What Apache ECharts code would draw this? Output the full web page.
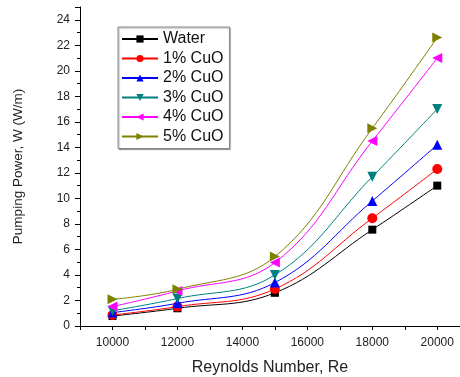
<!DOCTYPE html>
<html>
<head>
<meta charset="utf-8">
<script src="https://cdn.jsdelivr.net/npm/echarts@6/dist/echarts.min.js"></script>
<style>
  html, body { margin: 0; padding: 0; background: #fff; }
  #chart { width: 460px; height: 377px; }
</style>
</head>
<body>
<div id="chart"></div>
<script>
// Reynolds number values (x)
const reynolds = [10000, 12000, 15000, 18000, 20000]

// pumping power per fluid, W (W/m)
const water = [0.78, 1.39, 2.6, 7.55, 11.0]
const cuo1 = [0.86, 1.52, 2.9, 8.45, 12.3]
const cuo2 = [1.05, 1.78, 3.4, 9.8, 14.2]
const cuo3 = [1.2, 2.15, 4.0, 11.7, 17.0]
const cuo4 = [1.52, 2.75, 4.97, 14.5, 21.0]
const cuo5 = [2.09, 2.88, 5.44, 15.5, 22.6]

const seriesNames = ['Water', '1% CuO', '2% CuO', '3% CuO', '4% CuO', '5% CuO']
const seriesValues = [water, cuo1, cuo2, cuo3, cuo4, cuo5]
const colors = ['#000000', '#ff0000', '#0000ff', '#008080', '#ff00ff', '#808000']
const symbols = ['rect', 'circle', 'triangle', 'triangle', 'triangle', 'triangle']
const rotations = [0, 0, 0, 180, 90, -90]

const chart = echarts.init(document.getElementById('chart'))

const font = 'Liberation Sans, Arial, sans-serif'

chart.setOption({
  animation: false,
  textStyle: { fontFamily: font },
  grid: { left: 80, right: 0, top: 7, bottom: 51, outerBoundsMode: 'none' },
  legend: {
    orient: 'vertical',
    left: 118,
    top: 27,
    padding: [4, 6, 4, 3],
    itemGap: 3.5,
    itemWidth: 36,
    itemHeight: 9,
    backgroundColor: '#fff',
    borderColor: '#888',
    borderWidth: 1,
    borderRadius: 0,
    shadowColor: 'rgba(0,0,0,0.35)',
    shadowOffsetX: 1,
    shadowOffsetY: 1,
    shadowBlur: 1,
    textStyle: { fontSize: 16, color: '#111', lineHeight: 16, fontFamily: font },
    data: seriesNames
  },
  xAxis: {
    type: 'value',
    min: 9000,
    max: 20700,
    interval: 1000,
    name: 'Reynolds Number, Re',
    nameLocation: 'middle',
    nameGap: 34,
    nameTextStyle: { fontSize: 16, color: '#222', fontFamily: font },
    axisLine: { lineStyle: { color: '#000', width: 1 } },
    axisTick: { show: true, inside: false, length: 4, lineStyle: { color: '#000' } },
    axisLabel: {
      margin: 11,
      fontSize: 12,
      color: '#222',
      formatter: v => (v % 2000 === 0 && v >= 10000 && v <= 20000) ? String(v) : ''
    },
    splitLine: { show: false }
  },
  yAxis: {
    type: 'value',
    min: 0,
    max: 25,
    interval: 2,
    name: 'Pumping Power, W (W/m)',
    nameLocation: 'middle',
    nameGap: 55,
    nameTextStyle: { fontSize: 13.5, color: '#222', fontFamily: font },
    axisLine: { show: true, lineStyle: { color: '#000', width: 1 } },
    axisTick: { show: true, inside: false, length: 5, lineStyle: { color: '#000' } },
    minorTick: { show: true, splitNumber: 2, length: 3, lineStyle: { color: '#000' } },
    axisLabel: {
      margin: 10,
      fontSize: 12,
      color: '#222',
      formatter: v => (v % 2 === 0) ? String(v) : ''
    },
    splitLine: { show: false }
  },
  series: seriesNames.map((name, i) => ({
    name: name,
    type: 'line',
    smooth: 0.4,
    data: reynolds.map((x, j) => [x, seriesValues[i][j]]),
    symbol: symbols[i],
    symbolSize: i === 0 ? 8 : 10,
    symbolRotate: rotations[i],
    itemStyle: { color: colors[i] },
    lineStyle: { color: colors[i], width: 1 },
    z: 2 + i
  }))
})
</script>
</body>
</html>
